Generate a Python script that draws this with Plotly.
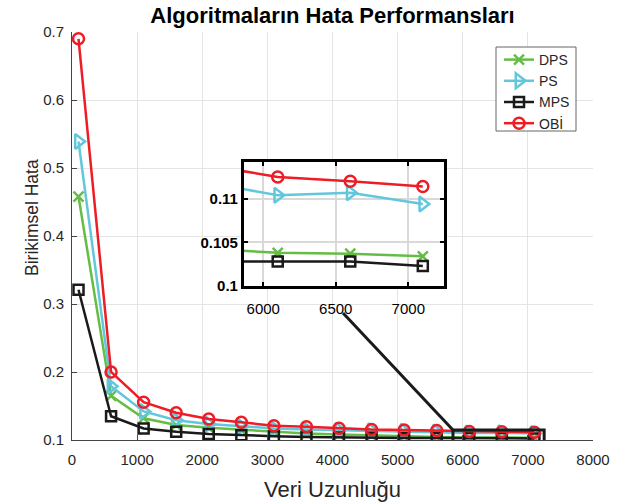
import plotly.graph_objects as go

# ---- data ----
veri_uzunlugu = [100, 600, 1100, 1600, 2100, 2600, 3100, 3600, 4100, 4600, 5100, 5600, 6100, 6600, 7100]
dps = [0.458, 0.165, 0.132, 0.122, 0.118, 0.115, 0.112, 0.1095, 0.108, 0.1065, 0.1054, 0.1043, 0.1038, 0.1037, 0.1034]
ps = [0.539, 0.179, 0.142, 0.129, 0.1235, 0.120, 0.117, 0.1155, 0.1145, 0.1135, 0.1127, 0.1119, 0.1104, 0.1107, 0.1094]
mps = [0.321, 0.135, 0.117, 0.112, 0.109, 0.107, 0.1055, 0.1045, 0.1038, 0.1034, 0.1031, 0.1028, 0.1028, 0.1028, 0.1023]
obi = [0.690, 0.200, 0.1555, 0.140, 0.131, 0.126, 0.121, 0.1195, 0.1172, 0.1155, 0.1148, 0.1139, 0.1125, 0.1120, 0.1114]

series_names = ["DPS", "PS", "MPS", "OBİ"]
series_values = [dps, ps, mps, obi]
colors = ["#66bd45", "#63c7dc", "#1a1a1a", "#ee1c25"]
symbols = ["x-thin-open", "triangle-right-open", "square-open", "circle-open"]
sizes = [10, 13, 10, 11]

main_x_ticks = [0, 1000, 2000, 3000, 4000, 5000, 6000, 7000, 8000]
main_y_ticks = [0.1, 0.2, 0.3, 0.4, 0.5, 0.6, 0.7]
inset_x_ticks = [6000, 6500, 7000]
inset_y_ticks = [0.1, 0.105, 0.11]
inset_x_range = [5867, 7246]
inset_y_range = [0.1, 0.1142]

fig = go.Figure()
for name, vals, c, s, sz in zip(series_names, series_values, colors, symbols, sizes):
    fig.add_trace(go.Scatter(
        x=veri_uzunlugu, y=vals, name=name, mode="lines+markers",
        line=dict(color=c, width=2.5),
        marker=dict(symbol=s, size=sz, color=c, line=dict(color=c, width=2.5)),
        xaxis="x", yaxis="y"))
for name, vals, c, s, sz in zip(series_names, series_values, colors, symbols, sizes):
    fig.add_trace(go.Scatter(
        x=veri_uzunlugu, y=vals, name=name, mode="lines+markers", showlegend=False,
        line=dict(color=c, width=2.5),
        marker=dict(symbol=s, size=sz, color=c, line=dict(color=c, width=2.5)),
        xaxis="x2", yaxis="y2"))

axis_color = "#262626"
font_family = "Liberation Sans, Arial, sans-serif"

fig.update_layout(
    width=629, height=503,
    margin=dict(l=72, r=36, t=32, b=63, autoexpand=False),
    paper_bgcolor="white", plot_bgcolor="white",
    font=dict(family=font_family, color=axis_color, size=15),
    title=dict(text="<b>Algoritmaların Hata Performansları</b>",
               x=0.5, xref="paper", y=1 - 15 / 503, yref="container", yanchor="middle",
               font=dict(size=22, color="black", family=font_family)),
    xaxis=dict(domain=[0, 1], range=[0, 8000], tickvals=main_x_ticks, automargin=False,
               showgrid=True, gridcolor="#e4e4e4", gridwidth=1,
               showline=True, linecolor="#444444", linewidth=1,
               ticks="inside", ticklen=5, tickcolor="#444444", ticklabelstandoff=6,
               zeroline=False, tickfont=dict(size=15, color=axis_color),
               title=dict(text="Veri Uzunluğu", font=dict(size=22, color=axis_color), standoff=14)),
    yaxis=dict(domain=[0, 1], range=[0.1, 0.7], tickvals=main_y_ticks, automargin=False,
               tickformat=".1f", ticklabelstandoff=4,
               showgrid=True, gridcolor="#e4e4e4", gridwidth=1,
               showline=True, linecolor="#444444", linewidth=1,
               ticks="inside", ticklen=5, tickcolor="#444444",
               zeroline=False, tickfont=dict(size=15, color=axis_color)),
    xaxis2=dict(domain=[0.330, 0.714], anchor="y2", range=inset_x_range, tickvals=inset_x_ticks,
                automargin=False,
                showgrid=True, gridcolor="#d9d9d9", gridwidth=2,
                showline=True, linecolor="black", linewidth=3, mirror="ticks",
                ticks="inside", ticklen=4, tickwidth=2, tickcolor="black",
                zeroline=False, tickfont=dict(size=15, color="black", family=font_family),
                tickprefix="<b>", ticksuffix="</b>", ticklabelstandoff=7),
    yaxis2=dict(domain=[0.3775, 0.681], anchor="x2", range=inset_y_range, tickvals=inset_y_ticks,
                automargin=False,
                ticktext=["<b>0.1</b>", "<b>0.105</b>", "<b>0.11</b>"],
                showgrid=True, gridcolor="#d9d9d9", gridwidth=2,
                showline=True, linecolor="black", linewidth=3, mirror="ticks",
                ticks="inside", ticklen=4, tickwidth=2, tickcolor="black",
                zeroline=False, tickfont=dict(size=15, color="black", family=font_family)),
    legend=dict(x=0.8196, y=0.9706, xanchor="left", yanchor="top",
                bgcolor="rgba(0,0,0,0)", borderwidth=0,
                font=dict(size=14, color=axis_color), tracegroupgap=0,
                itemwidth=30),
    showlegend=True,
)

# y-axis title (placed as in the reference, slightly above centre)
fig.add_annotation(text="Birikimsel Hata", textangle=-90, xref="paper", yref="paper",
                   x=(32 - 72) / 521, y=(440 - 218) / 408, xanchor="center", yanchor="middle",
                   showarrow=False, font=dict(size=17.5, color=axis_color, family=font_family))

# inset background
fig.add_shape(type="rect", xref="x2 domain", yref="y2 domain", x0=0, x1=1, y0=0, y1=1,
              fillcolor="#f8f8f8", line=dict(width=0), layer="below")
# legend box
fig.add_shape(type="rect", xref="paper", yref="paper",
              x0=(496 - 72) / 521, x1=(576 - 72) / 521,
              y0=(440 - 131) / 408, y1=(440 - 47) / 408,
              fillcolor="white", line=dict(color="#666666", width=1), layer="above")
# zoom rectangle on main axes
fig.add_shape(type="rect", xref="x", yref="y",
              x0=5850, x1=7250, y0=0.0975, y1=0.1147,
              line=dict(color="#1a1a1a", width=3), layer="above")
# connector line
fig.add_shape(type="line", xref="x", yref="y",
              x0=4161, y0=0.2868, x1=5850, y1=0.1147,
              line=dict(color="#1a1a1a", width=3), layer="above")

fig.write_html("out.html", config={"displayModeBar": False},
               post_script="document.body.style.margin='0';")
